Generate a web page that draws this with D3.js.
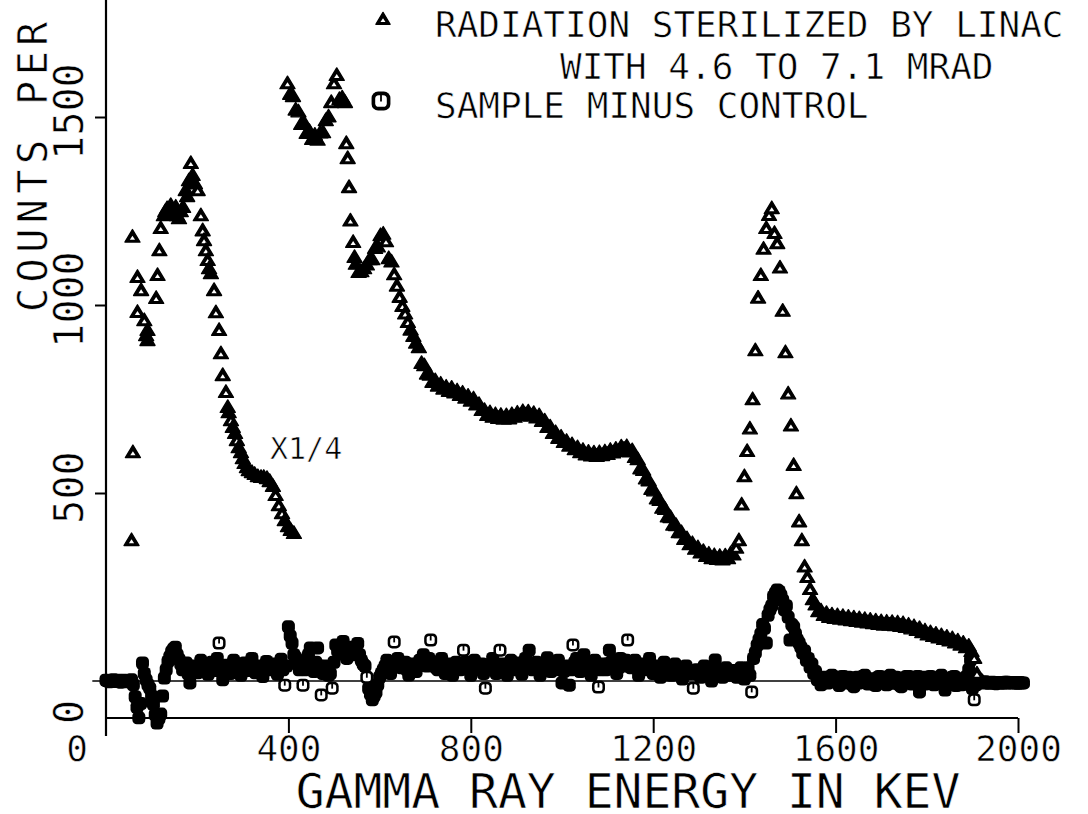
<!DOCTYPE html>
<html><head><meta charset="utf-8">
<script src="https://cdn.jsdelivr.net/npm/d3@7"></script>
<style>
body{margin:0;background:#fff}
text{font-family:"DejaVu Sans Mono",monospace;fill:#000;stroke:#fff;stroke-width:0.6px}
</style>
</head><body>
<svg id="c" width="1088" height="814"></svg>
<script>
// ---------- data ----------
const xTicks = [400, 800, 1200, 1600, 2000];
const yTicks = [500, 1000, 1500];
const legendLabels = ["RADIATION STERILIZED BY LINAC", "WITH 4.6 TO 7.1 MRAD", "SAMPLE MINUS CONTROL"];
const xTitle = "GAMMA RAY ENERGY IN KEV";
const yTitle = "COUNTS PER";
const lowScaleNote = "X1/4";

// Radiation sterilized, low-energy part (drawn x1/4): energy (keV), counts
const triLowKeV = [56,59,58,69,69,77,84,88,91,91,110,113,117,120,127,130,134,138,142,146,149,153,156,160,164,169,175,178,182,186,190,195,201,208,212,215,219,223,226,230,237,241,248,252,256,263,267,269,274,278,283,287,291,296,300,304,309,313,320,326,333,340,346,353,359,366,372,379,386,392,399,405,412];
const triLowCounts = [375,609,1182,1075,982,1040,960,920,934,907,1019,1080,1146,1205,1239,1250,1258,1245,1266,1240,1253,1262,1239,1231,1250,1261,1306,1290,1332,1378,1346,1324,1306,1239,1199,1173,1146,1120,1098,1085,1040,981,934,872,814,769,729,715,694,676,660,641,622,609,593,580,569,561,556,551,545,543,543,540,532,519,495,468,447,428,412,402,394];

// Radiation sterilized, 398..1910 keV in 6 keV channels
const triHighStart = 398, triHighStep = 6;
const triHighCounts = [
1590,1562,1556,1520,1515,1482,1486,1458,1463,1442,
1453,1440,1459,1460,1492,1502,1540,1590,1612,1548,
1552,1540,1391,1225,1168,1110,1088,1090,1098,1108,
1122,1122,1152,1156,1186,1190,1170,1125,1116,1082,
1052,1022,998,978,955,935,918,900,888,846,
840,818,815,796,800,786,791,778,783,772,
780,768,773,761,767,754,759,746,752,736,
737,721,721,708,715,703,710,700,708,698,
707,699,710,703,714,707,718,709,717,706,
713,701,707,692,693,676,677,660,662,647,
650,636,639,626,630,617,622,609,615,603,
610,600,608,599,609,601,611,604,615,608,
618,612,624,618,625,611,614,596,590,566,
562,539,534,511,507,486,482,461,458,438,
436,416,415,396,396,378,380,364,367,352,
356,342,346,333,339,327,335,325,333,324,
334,327,340,337,355,375,470,545,612,672,
750,880,1020,1080,1150,1205,1240,1258,1192,1165,
1100,985,875,765,680,575,500,425,375,305,
277,245,218,204,186,188,176,181,171,177,
168,175,166,173,164,171,162,169,160,167,
158,165,156,163,154,161,152,159,150,158,
150,157,149,156,147,154,144,150,140,146,
136,141,130,135,124,130,120,126,116,122,
112,118,108,114,103,108,97,102,90,94,
80,62,20];
const triExtraKeV = [527, 533, 545];
const triExtraCounts = [1431, 1314, 1128];

// Sample minus control, 0..2012 keV in 4 keV channels
const circStart = 0, circStep = 4;
const circCounts = [
2,0,-2,1,3,-1,0,2,-3,0,2,-2,-1,1,3,-10,-42,-70,-98,-60,
48,20,3,-10,-19,-40,-62,-90,-112,-100,-88,-40,8,30,52,65,78,85,90,70,
58,45,30,40,48,20,-5,25,40,30,22,40,55,45,35,25,18,35,50,40,
28,60,101,40,3,25,42,30,20,40,55,45,36,25,15,30,48,38,28,40,
60,40,22,30,40,25,12,35,52,40,30,40,45,30,18,38,58,30,-11,40,
144,120,101,70,62,45,30,40,-11,30,55,70,88,45,25,50,88,40,-37,20,
40,30,15,20,-19,50,96,80,75,90,105,70,60,80,90,75,70,85,100,70,
55,45,40,10,-20,-35,-50,-40,-30,-10,10,20,30,40,55,35,20,40,104,50,
60,40,35,45,50,30,16,35,45,40,25,40,55,45,70,50,40,60,109,50,
50,35,30,45,60,40,20,35,45,30,15,35,50,40,30,45,82,50,40,30,
15,35,55,40,30,40,45,20,-19,30,35,45,60,40,20,35,82,45,40,30,
15,35,55,40,30,45,48,30,18,35,60,45,82,40,30,45,50,35,15,30,
45,35,62,40,25,35,40,50,55,30,-5,25,30,40,-11,30,96,50,60,40,
25,40,70,45,40,30,15,35,55,40,-16,30,45,35,30,45,82,50,55,40,
20,35,60,45,40,55,109,40,35,45,55,40,15,30,45,35,30,45,60,35,
20,35,40,30,10,25,50,35,30,20,15,30,45,35,25,20,5,25,40,30,
20,25,-19,20,30,25,10,20,40,30,20,25,0,20,56,30,25,20,10,25,
35,20,15,25,28,20,10,20,35,15,5,20,35,15,-29,60,75,95,110,125,
150,140,101,175,190,200,225,234,242,238,228,215,189,200,170,109,150,144,125,110,
101,90,74,80,55,60,37,45,20,25,3,10,-10,5,10,-3,-5,8,15,0,
0,10,-12,5,12,-5,-3,10,8,-8,-15,5,10,-5,0,12,15,0,-8,5,
5,-8,-12,8,12,-3,0,10,-10,5,15,-5,-5,10,8,-10,-15,3,5,12,
12,-5,-8,5,3,12,-29,0,10,-8,-5,10,12,-3,-10,8,5,-5,15,0,
-24,5,0,-8,10,12,-12,0,5,-10,-8,8,12,30,56,-20,-50,-10,5,-3,
-5,-3,-2,-5,-6,-4,-3,-6,-7,-4,-4,-5,-6,-3,-3,-5,-5,-4,-4,-6,
-6,-4,-5,-5];

// ---------- build ----------
const triPts = [];
triLowKeV.forEach((e,i)=>triPts.push([e, triLowCounts[i]]));
triHighCounts.forEach((v,i)=>triPts.push([triHighStart + i*triHighStep, v]));
triExtraKeV.forEach((e,i)=>triPts.push([e, triExtraCounts[i]]));
const circPts = circCounts.map((v,i)=>[circStart + i*circStep, v]);

const svg = d3.select("#c");
svg.append("rect").attr("width",1088).attr("height",814).attr("fill","#fff");

const x = d3.scaleLinear().domain([0,2000]).range([106,1018]);
const y = d3.scaleLinear().domain([0,1500]).range([681,117]);
const axisY = 718;
const FONT = '"DejaVu Sans Mono",monospace';

// y axis line
svg.append("line").attr("x1",x(0)).attr("x2",x(0)).attr("y1",0).attr("y2",736)
  .attr("stroke","#000").attr("stroke-width",2.2);

// x axis
const gx = svg.append("g").attr("transform",`translate(0,${axisY})`)
  .call(d3.axisBottom(x).tickValues(xTicks).tickSize(15).tickSizeOuter(0).tickFormat(d3.format("d")));
gx.select(".domain").attr("stroke","#000").attr("stroke-width",2.2).attr("d",`M${x(0)},0H${x(2000)}`);
gx.selectAll(".tick line").attr("stroke","#000").attr("stroke-width",2);
gx.selectAll(".tick text").attr("font-size",36).attr("y",43).attr("dy",0)
  .style("font-family",FONT).style("fill","#000");
gx.append("text").attr("x",x(0)-29).attr("y",43).attr("text-anchor","middle")
  .attr("font-size",36).text("0");

// y axis ticks
const gy = svg.append("g").attr("transform",`translate(${x(0)},0)`)
  .call(d3.axisLeft(y).tickValues(yTicks).tickSize(11).tickSizeOuter(0).tickFormat(d3.format("d")));
gy.select(".domain").remove();
gy.selectAll(".tick line").attr("stroke","#000").attr("stroke-width",2);
gy.selectAll(".tick text").attr("x",null).attr("dy",0).attr("text-anchor","middle")
  .attr("transform","translate(-23,-6) rotate(-90)").attr("font-size",40)
  .style("font-family",FONT).style("fill","#000");
svg.append("text").attr("transform",`translate(${x(0)-23},${axisY-6}) rotate(-90)`)
  .attr("text-anchor","middle").attr("font-size",40).text("0");

// zero reference line
svg.append("line").attr("x1",x(-30)).attr("x2",x(2010)).attr("y1",y(0)).attr("y2",y(0))
  .attr("stroke","#000").attr("stroke-width",1.6);

// titles
svg.append("text").attr("x",628).attr("y",808).attr("text-anchor","middle")
  .attr("font-size",48).text(xTitle);
svg.append("text").attr("transform","translate(47,312) rotate(-90)")
  .attr("font-size",40).attr("letter-spacing",5.5).text(yTitle);
svg.append("text").attr("x",270).attr("y",459).attr("font-size",30).text(lowScaleNote);

// markers: solid body; the white centre only survives where the symbol is not
// overprinted by a close neighbour (dense runs print as solid ink)
function triMarker(g, s, hole){
  g.append("path").attr("d","M0,-7L7.5,5.5L-7.5,5.5Z").attr("transform",`scale(${s})`)
    .attr("fill","#000").attr("stroke","#000").attr("stroke-width",1.4).attr("stroke-linejoin","round");
  if(hole) g.append("path").attr("d","M0,-0.8L2.6,3.2L-2.6,3.2Z").attr("transform",`scale(${s})`)
    .attr("fill","#fff");
}
function circMarker(g, s, hole){
  g.append("rect").attr("x",-6.5*s).attr("y",-6.5*s).attr("width",13*s).attr("height",13*s)
    .attr("rx",4.5*s).attr("fill","#000");
  if(hole){
    g.append("rect").attr("x",-4*s).attr("y",-4*s).attr("width",8*s).attr("height",8*s)
      .attr("rx",2.5*s).attr("fill","#fff");
    g.append("line").attr("x1",0).attr("x2",0).attr("y1",-5*s).attr("y2",0.5)
      .attr("stroke","#000").attr("stroke-width",1.8);
  }
}
function isolated(pts, i, r){
  const px = x(pts[i][0]), py = y(pts[i][1]);
  for(let j=0;j<pts.length;j++){
    if(j===i) continue;
    const dx = x(pts[j][0])-px, dy = y(pts[j][1])-py;
    if(dx*dx+dy*dy < r*r) return false;
  }
  return true;
}

const gc = svg.append("g");
circPts.forEach((d,i)=>{
  circMarker(gc.append("g").attr("transform",`translate(${x(d[0])},${y(d[1])})`),1,isolated(circPts,i,11));
});
const gt = svg.append("g");
triPts.forEach((d,i)=>{
  triMarker(gt.append("g").attr("transform",`translate(${x(d[0])},${y(d[1])})`),1,isolated(triPts,i,7));
});

// legend
triMarker(svg.append("g").attr("transform","translate(383,19)"),0.95,true);
circMarker(svg.append("g").attr("transform","translate(381,101)"),1.45,true);
svg.append("text").attr("x",435).attr("y",37).attr("font-size",36).text(legendLabels[0]);
svg.append("text").attr("x",560).attr("y",79).attr("font-size",36).text(legendLabels[1]);
svg.append("text").attr("x",435).attr("y",118).attr("font-size",36).text(legendLabels[2]);
</script>
</body></html>
